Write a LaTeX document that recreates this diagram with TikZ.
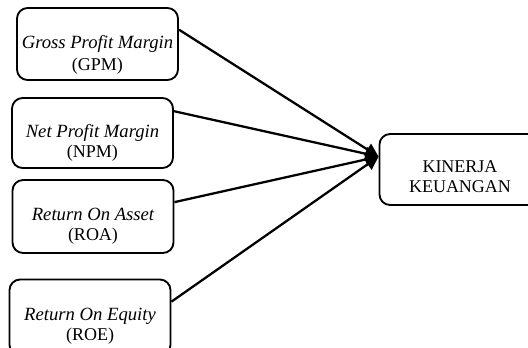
\documentclass[tikz,border=0pt]{standalone}
\usepackage{fontspec}
\setmainfont{Liberation Serif}
\usetikzlibrary{arrows.meta}

\begin{document}
\begin{tikzpicture}[x=0.75pt, y=-0.75pt,
  boxnode/.style={draw, line width=1.4pt, rounded corners=8pt, minimum width=120.75pt,
    minimum height=54pt, align=center, inner sep=0pt, text height=36pt, text depth=0pt,
    font=\fontsize{13.5}{15}\selectfont},
  link/.style={line width=1.7pt, -{Triangle[length=10pt, width=10pt]}}]

\useasboundingbox (0,0) rectangle (528,347);

\node[boxnode, font=\fontsize{13.5}{16.5}\selectfont, text height=39pt] (gpm) at (97.5,44)
  {{\fontsize{14}{15}\selectfont\itshape Gross Profit Margin}\\(GPM)};
\node[boxnode, minimum height=52.5pt] (npm) at (92.5,133)
  {{\fontsize{14}{15}\selectfont\itshape Net Profit Margin}\\(NPM)};
\node[boxnode, minimum height=54.75pt] (roa) at (93,216.5)
  {{\fontsize{14}{15}\selectfont\itshape Return On Asset}\\(ROA)};
\node[boxnode, minimum height=57pt, text height=34.5pt] (roe) at (90,317.5)
  {{\fontsize{14}{15}\selectfont\itshape Return On Equity}\\(ROE)};

\node[boxnode, minimum height=53.25pt, text height=35pt] (kin) at (460,169.5) {KINERJA\\KEUANGAN};

\draw[link] (gpm.10) -- (kin.171);
\draw[link] (npm.15) -- (kin.171);
\draw[link] (roa.10) -- (kin.171);
\draw[link] (roe.11) -- (kin.171);

\end{tikzpicture}
\end{document}
